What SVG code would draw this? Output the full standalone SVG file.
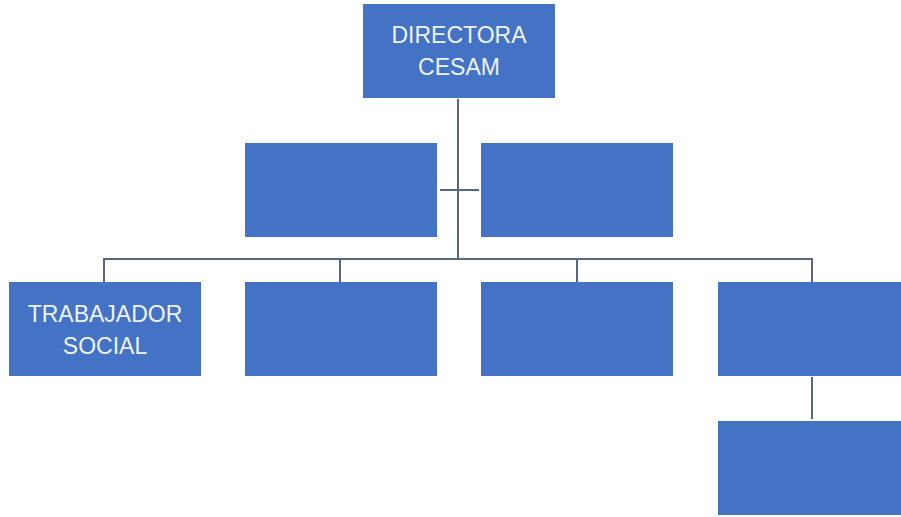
<svg xmlns="http://www.w3.org/2000/svg" width="901" height="517" viewBox="0 0 901 517">
<style>
.box{fill:#4472C4}
.lbl{font-family:"Liberation Sans",Arial,sans-serif;font-size:23px;fill:#eef3fb;text-anchor:middle}
.con{stroke:#5a6780;stroke-width:2;fill:none}
</style>
<rect width="901" height="517" fill="#ffffff"/>
<g id="connectors">
<path class="con" d="M458,99 V259"/>
<path class="con" d="M440,190 H479"/>
<path class="con" d="M104,282 V259 H812 V282"/>
<path class="con" d="M340,259 V282"/>
<path class="con" d="M577,259 V282"/>
<path class="con" d="M812,377 V419"/>
</g>
<g id="directora">
<rect class="box" x="363" y="4" width="192" height="94"/>
<text class="lbl" x="459" y="43">DIRECTORA</text>
<text class="lbl" x="459" y="75">CESAM</text>
</g>
<g id="asst-left"><rect class="box" x="245" y="143" width="192" height="94"/></g>
<g id="asst-right"><rect class="box" x="481" y="143" width="192" height="94"/></g>
<g id="trabajador">
<rect class="box" x="9" y="282" width="192" height="94"/>
<text class="lbl" x="105" y="322">TRABAJADOR</text>
<text class="lbl" x="105" y="354">SOCIAL</text>
</g>
<g id="sub2"><rect class="box" x="245" y="282" width="192" height="94"/></g>
<g id="sub3"><rect class="box" x="481" y="282" width="192" height="94"/></g>
<g id="sub4"><rect class="box" x="718" y="282" width="192" height="94"/></g>
<g id="sub5"><rect class="box" x="718" y="421" width="192" height="94"/></g>
</svg>
